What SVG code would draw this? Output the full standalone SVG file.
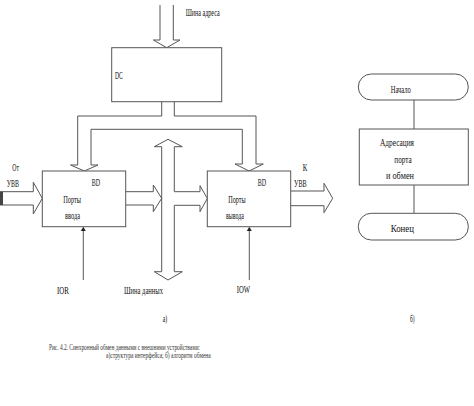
<svg xmlns="http://www.w3.org/2000/svg" width="474" height="406" viewBox="0 0 474 406">
<style>
.s{fill:none;stroke:#555;stroke-width:1}
.b{fill:#fff;stroke:#555;stroke-width:1}
text{font-family:"Liberation Serif","Times New Roman",serif;font-size:11px;fill:#111}
.c{font-size:9px;fill:#333}
</style>
<rect width="474" height="406" fill="#fff"/>
<g id="connectors">
<path class="s" d="M160,5 V40 H153.3 L166.7,47.7 L180,40 H173.3 V5"/>
<path class="s" d="M161.7,101.7 V116 H77.7 V165 H70.5 L84.3,171 L98,165 H91 V129.3 H242.3 V164 H235 L249.1,171 L263.3,164 H256 V116 H174.3 V101.7"/>
<path class="s" d="M161.7,146.7 V271.7"/>
<path class="s" d="M161.7,146.7 H154.3 L168,139.3 L182.3,146.7 H174.3 V191.7 H200 V185.7 L207.3,198.5 L200,211.7 V205.3 H174.3 V271.7 H182.3 L168,280 L154.3,271.7 H161.7"/>
<path class="s" d="M125.7,191.7 H153.3 V185 L161.7,198.3 L153.3,211.7 V205 H125.7"/>
<path class="s" d="M0,191.7 H33.3 V182.3 L42.3,198.3 L33.3,214 V205 H0"/>
<rect x="0" y="191.7" width="3" height="13.3" fill="#444"/>
<path class="s" d="M290.7,191 H324 V183.3 L332.7,198.3 L324,212.7 V205.7 H290.7"/>
<path class="s" d="M83.3,280 V230"/>
<polygon points="83.3,226.7 80.8,231 85.8,231" fill="#222"/>
<path class="s" d="M249.3,280 V230"/>
<polygon points="249.3,226.7 246.8,231 251.8,231" fill="#222"/>
<path class="s" d="M414,100 V129 M414,185 V213.3"/>
</g>
<g id="address-bus-label"><text x="185.7" y="16" textLength="34" lengthAdjust="spacingAndGlyphs">Шина адреса</text></g>
<g id="dc">
<rect class="b" x="111.7" y="47.7" width="110" height="54"/>
<text x="115" y="79" textLength="7.7" lengthAdjust="spacingAndGlyphs">DC</text>
</g>
<g id="ports-in">
<rect class="b" x="42.3" y="171" width="83.4" height="55.7"/>
<text x="91.7" y="185.5" textLength="8.3" lengthAdjust="spacingAndGlyphs">BD</text>
<text x="63.3" y="202.5" textLength="17.7" lengthAdjust="spacingAndGlyphs">Порты</text>
<text x="65" y="218.5" textLength="15" lengthAdjust="spacingAndGlyphs">ввода</text>
</g>
<g id="ports-out">
<rect class="b" x="207.3" y="171" width="83.4" height="55.7"/>
<text x="257.7" y="185.5" textLength="8.3" lengthAdjust="spacingAndGlyphs">BD</text>
<text x="228.3" y="202.5" textLength="17.4" lengthAdjust="spacingAndGlyphs">Порты</text>
<text x="226" y="218.5" textLength="18" lengthAdjust="spacingAndGlyphs">вывода</text>
</g>
<g id="labels">
<text x="12.3" y="170.5" textLength="6.7" lengthAdjust="spacingAndGlyphs">От</text>
<text x="6.7" y="186.5" textLength="12.3" lengthAdjust="spacingAndGlyphs">УВВ</text>
<text x="302.7" y="171" textLength="4.5" lengthAdjust="spacingAndGlyphs">К</text>
<text x="294" y="187" textLength="12.7" lengthAdjust="spacingAndGlyphs">УВВ</text>
<text x="57" y="293.5" textLength="12" lengthAdjust="spacingAndGlyphs">IOR</text>
<text x="124" y="293.5" textLength="39" lengthAdjust="spacingAndGlyphs">Шина данных</text>
<text x="236.7" y="292.5" textLength="13.3" lengthAdjust="spacingAndGlyphs">IOW</text>
<text x="162.7" y="322" textLength="4.5" lengthAdjust="spacingAndGlyphs">а)</text>
<text x="410" y="322" textLength="4.5" lengthAdjust="spacingAndGlyphs">б)</text>
<text class="c" x="49" y="349.8" textLength="151" lengthAdjust="spacingAndGlyphs">Рис. 4.2. Синхронный обмен данными с внешними устройствами:</text>
<text class="c" x="106" y="358.3" textLength="104.7" lengthAdjust="spacingAndGlyphs">а)структура интерфейса; б) алгоритм обмена</text>
</g>
<g id="start">
<rect class="b" x="358.3" y="74" width="110" height="26" rx="13"/>
<text x="390.7" y="93" textLength="20" lengthAdjust="spacingAndGlyphs">Начало</text>
</g>
<g id="process">
<rect class="b" x="359.3" y="129" width="109" height="56"/>
<text x="380" y="145.5" textLength="34" lengthAdjust="spacingAndGlyphs">Адресация</text>
<text x="394.3" y="162.5" textLength="17.4" lengthAdjust="spacingAndGlyphs">порта</text>
<text x="386" y="178.5" textLength="28" lengthAdjust="spacingAndGlyphs">и обмен</text>
</g>
<g id="end">
<rect class="b" x="358.3" y="213.3" width="110" height="26.7" rx="13"/>
<text x="390.7" y="231.5" textLength="23.3" lengthAdjust="spacingAndGlyphs">Конец</text>
</g>
</svg>
